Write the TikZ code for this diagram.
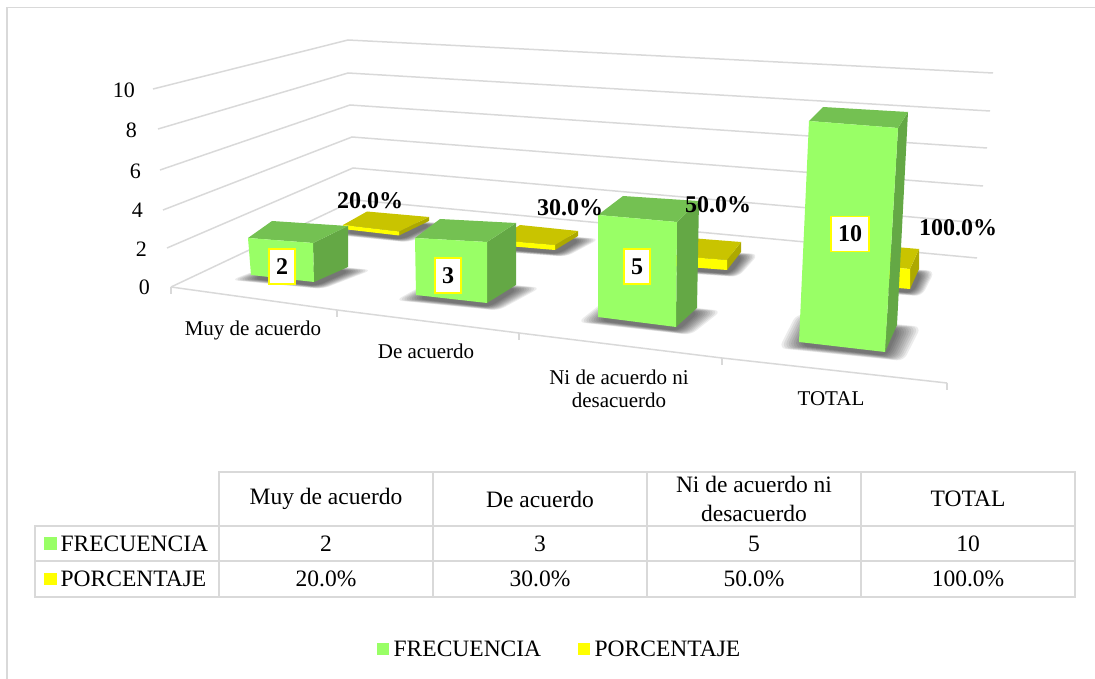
\documentclass[tikz,border=0pt]{standalone}
\usepackage{fontspec}
\setmainfont{Liberation Serif}
\usetikzlibrary{positioning}

\definecolor{frecfront}{HTML}{99FF66}
\definecolor{frectop}{HTML}{74C152}
\definecolor{frecside}{HTML}{64A845}
\definecolor{pctfront}{HTML}{FFFF00}
\definecolor{pcttop}{HTML}{C9C400}
\definecolor{pctside}{HTML}{ADA900}
\definecolor{gridgray}{HTML}{D9D9D9}

\begin{document}
\begin{tikzpicture}[x=1pt, y=-1pt,
		gridline/.style={gridgray, line width=1.5pt},
		tabline/.style={gridgray, line width=2pt},
		shadowlayer/.style={black, opacity=0.075, rounded corners=7pt},
		ticklabel/.style={anchor=east, inner sep=0pt, font=\fontsize{22}{26}\selectfont},
		catlabel/.style={align=center, inner sep=0pt, font=\fontsize{21}{23}\selectfont},
		pctlabel/.style={inner sep=0pt, font=\fontsize{24}{28}\selectfont\bfseries},
		valbox/.style={draw=pctfront, fill=white, line width=1.5pt, inner xsep=7pt, inner ysep=0pt, minimum height=35pt, font=\fontsize{24}{28}\selectfont\bfseries},
		tabtext/.style={align=center, inner sep=0pt, font=\fontsize{23.5}{29}\selectfont},
		keysq/.style={minimum size=12.5pt, inner sep=0pt}]

			\useasboundingbox (0,0) rectangle (1095,679);
			\draw [gridgray, line width=1.5pt] (1095,7.5) -- (7,7.5) -- (7,679);

			% walls and floor
			\draw [gridline] (153,89) -- (348,40) -- (993,73);
			\draw [gridline] (158,129) -- (348,73) -- (990,111);
			\draw [gridline] (160,170) -- (350,105) -- (987,148);
			\draw [gridline] (163,210) -- (352,137) -- (983,186);
			\draw [gridline] (167,248) -- (353,168) -- (980,223);
			\draw [gridline] (171,287) -- (355,200) -- (977,258);
			\draw [gridline] (171,287) -- (337,310) -- (519,333) -- (722,358) -- (947,383);
			\foreach \x/\y in {171/287, 337/310, 519/333, 722/358, 947/383}
				\draw [gridline] (\x,\y) -- (\x,\y+7);

			\foreach \v/\x/\y in {0/150/287, 2/147/249, 4/143/210, 6/141/171, 8/137/130, 10/135/90}
				\node [ticklabel] (tick\v) at (\x,\y) {\v};

			% PORCENTAJE row
			\foreach \s in {1.00,1.05,...,1.46}
				\fill [shadowlayer, shift={(387.5,229)}, xscale=\s, yscale={1+0.6*(\s-1)}] (-41.5,4) -- (14.5,10.5) -- (44.5,-4) -- (-17.5,-9.5) -- cycle;
			\fill [pctside] (399,231.5) -- (429,217) -- (429,221) -- (399,235.5) -- cycle;
			\fill [pcttop] (343,225) -- (399,231.5) -- (429,217) -- (367,211.5) -- cycle;
			\fill [pctfront] (343,225) -- (399,231.5) -- (399,235.5) -- (343,229) -- cycle;

			\foreach \s in {1.00,1.05,...,1.46}
				\fill [shadowlayer, shift={(540,244)}, xscale=\s, yscale={1+0.6*(\s-1)}] (-41,5) -- (18,10) -- (41,-4) -- (-17,-10) -- cycle;
			\fill [pctside] (555,245) -- (578,231) -- (578,236) -- (555,250) -- cycle;
			\fill [pcttop] (496,240) -- (555,245) -- (578,231) -- (520,225) -- cycle;
			\fill [pctfront] (496,240) -- (555,245) -- (555,250) -- (496,245) -- cycle;

			\foreach \s in {1.00,1.05,...,1.46}
				\fill [shadowlayer, shift={(711.5,263)}, xscale=\s, yscale={1+0.6*(\s-1)}] (-32.5,7) -- (18.5,11) -- (32.5,-7) -- (-18.5,-11) -- cycle;
			\fill [pctside] (727,260) -- (741,242) -- (741,252) -- (727,270) -- cycle;
			\fill [pcttop] (676,256) -- (727,260) -- (741,242) -- (690,238) -- cycle;
			\fill [pctfront] (676,256) -- (727,260) -- (727,270) -- (676,266) -- cycle;

			\foreach \s in {1.00,1.05,...,1.46}
				\fill [shadowlayer, shift={(893.5,281)}, xscale=\s, yscale={1+0.6*(\s-1)}] (-28.5,8) -- (19.5,12) -- (28.5,-8) -- (-19.5,-12) -- cycle;
			\fill [pctside] (910,269) -- (919,249) -- (919,269) -- (910,289) -- cycle;
			\fill [pcttop] (862,265) -- (910,269) -- (919,249) -- (872,245) -- cycle;
			\fill [pctfront] (862,265) -- (910,269) -- (910,289) -- (862,285) -- cycle;

			% FRECUENCIA row
			\foreach \s in {1.00,1.05,...,1.46}
				\fill [shadowlayer, shift={(301.5,275)}, xscale=\s, yscale={1+0.6*(\s-1)}] (-48.5,4) -- (14.5,11) -- (48.5,-4) -- (-14.5,-11) -- cycle;
			\fill [frecside] (313,243) -- (348,226) -- (348,267) -- (314,282) -- cycle;
			\fill [frectop] (248,238) -- (313,243) -- (348,226) -- (272,221) -- cycle;
			\fill [frecfront] (248,238) -- (313,243) -- (314,282) -- (251,275) -- cycle;

			\foreach \s in {1.00,1.05,...,1.46}
				\fill [shadowlayer, shift={(468,294)}, xscale=\s, yscale={1+0.6*(\s-1)}] (-50,5) -- (21,13) -- (50,-5) -- (-21,-13) -- cycle;
			\fill [frecside] (487,242) -- (516,223) -- (516,285) -- (487,303) -- cycle;
			\fill [frectop] (415,238) -- (487,242) -- (516,223) -- (440,219) -- cycle;
			\fill [frecfront] (415,238) -- (487,242) -- (487,303) -- (416,295) -- cycle;

			\foreach \s in {1.00,1.05,...,1.46}
				\fill [shadowlayer, shift={(649.5,316.5)}, xscale=\s, yscale={1+0.6*(\s-1)}] (-49.5,4.5) -- (28.5,14.5) -- (49.5,-4.5) -- (-28.5,-14.5) -- cycle;
			\fill [frecside] (677,222) -- (699,201) -- (697,308) -- (676,327) -- cycle;
			\fill [frectop] (598,215) -- (677,222) -- (699,201) -- (623,196) -- cycle;
			\fill [frecfront] (598,215) -- (677,222) -- (676,327) -- (598,317) -- cycle;

			\foreach \s in {1.00,1.05,...,1.46}
				\fill [shadowlayer, shift={(850,337.5)}, xscale=\s, yscale={1+0.6*(\s-1)}] (-49,8.5) -- (37,18.5) -- (49,-8.5) -- (-37,-18.5) -- cycle;
			\fill [frecside] (898,128) -- (908,112) -- (897,325) -- (885,352) -- cycle;
			\fill [frectop] (809,121) -- (898,128) -- (908,112) -- (823,107) -- cycle;
			\fill [frecfront] (809,121) -- (898,128) -- (885,352) -- (799,342) -- cycle;

			% data labels
			\node [pctlabel] (pct1) at (370,201) {20.0\%};
			\node [pctlabel] (pct2) at (570,208) {30.0\%};
			\node [pctlabel] (pct3) at (718,205) {50.0\%};
			\node [pctlabel] (pct4) at (958,228) {100.0\%};

			\node [valbox] (val1) at (282,266.5) {2};
			\node [valbox] (val2) at (448,275.5) {3};
			\node [valbox] (val3) at (637,266.5) {5};
			\node [valbox] (val4) at (850,234) {10};

			\node [catlabel] (cat1) at (253,330) {Muy de acuerdo};
			\node [catlabel] (cat2) at (426,351) {De acuerdo};
			\node [catlabel] (cat3) at (619,389) {Ni de acuerdo ni\\desacuerdo};
			\node [catlabel] (cat4) at (831,399) {TOTAL};

			% data table
			\draw [tabline] (219,472) rectangle (1075,597);
			\draw [tabline] (35,526) rectangle (219,597);
			\draw [tabline] (35,526) -- (1075,526);
			\draw [tabline] (35,561) -- (1075,561);
			\foreach \x in {433,647,861}
				\draw [tabline] (\x,472) -- (\x,597);

			\node [tabtext] (head1) at (326,499) {Muy de acuerdo};
			\node [tabtext] (head2) at (540,499) {De acuerdo};
			\node [tabtext] (head3) at (754,499) {Ni de acuerdo ni\\desacuerdo};
			\node [tabtext] (head4) at (968,499) {TOTAL};

			\node [keysq, fill=frecfront] (rowkeyf) at (50.5,543.5) {};
			\node [tabtext, right=3.5pt of rowkeyf] (rowf) {FRECUENCIA};
			\node [keysq, fill=pctfront] (rowkeyp) at (50.5,579) {};
			\node [tabtext, right=3.5pt of rowkeyp] (rowp) {PORCENTAJE};

			\node [tabtext] (frec1) at (326,543.5) {2};
			\node [tabtext] (frec2) at (540,543.5) {3};
			\node [tabtext] (frec3) at (754,543.5) {5};
			\node [tabtext] (frec4) at (968,543.5) {10};
			\node [tabtext] (porc1) at (326,579) {20.0\%};
			\node [tabtext] (porc2) at (540,579) {30.0\%};
			\node [tabtext] (porc3) at (754,579) {50.0\%};
			\node [tabtext] (porc4) at (968,579) {100.0\%};

			% legend
			\node [keysq, fill=frecfront] (legkeyf) at (383,649) {};
			\node [tabtext, right=4pt of legkeyf] (legf) {FRECUENCIA};
			\node [keysq, fill=pctfront] (legkeyp) at (584,649) {};
			\node [tabtext, right=4pt of legkeyp] (legp) {PORCENTAJE};
		\end{tikzpicture}
\end{document}
